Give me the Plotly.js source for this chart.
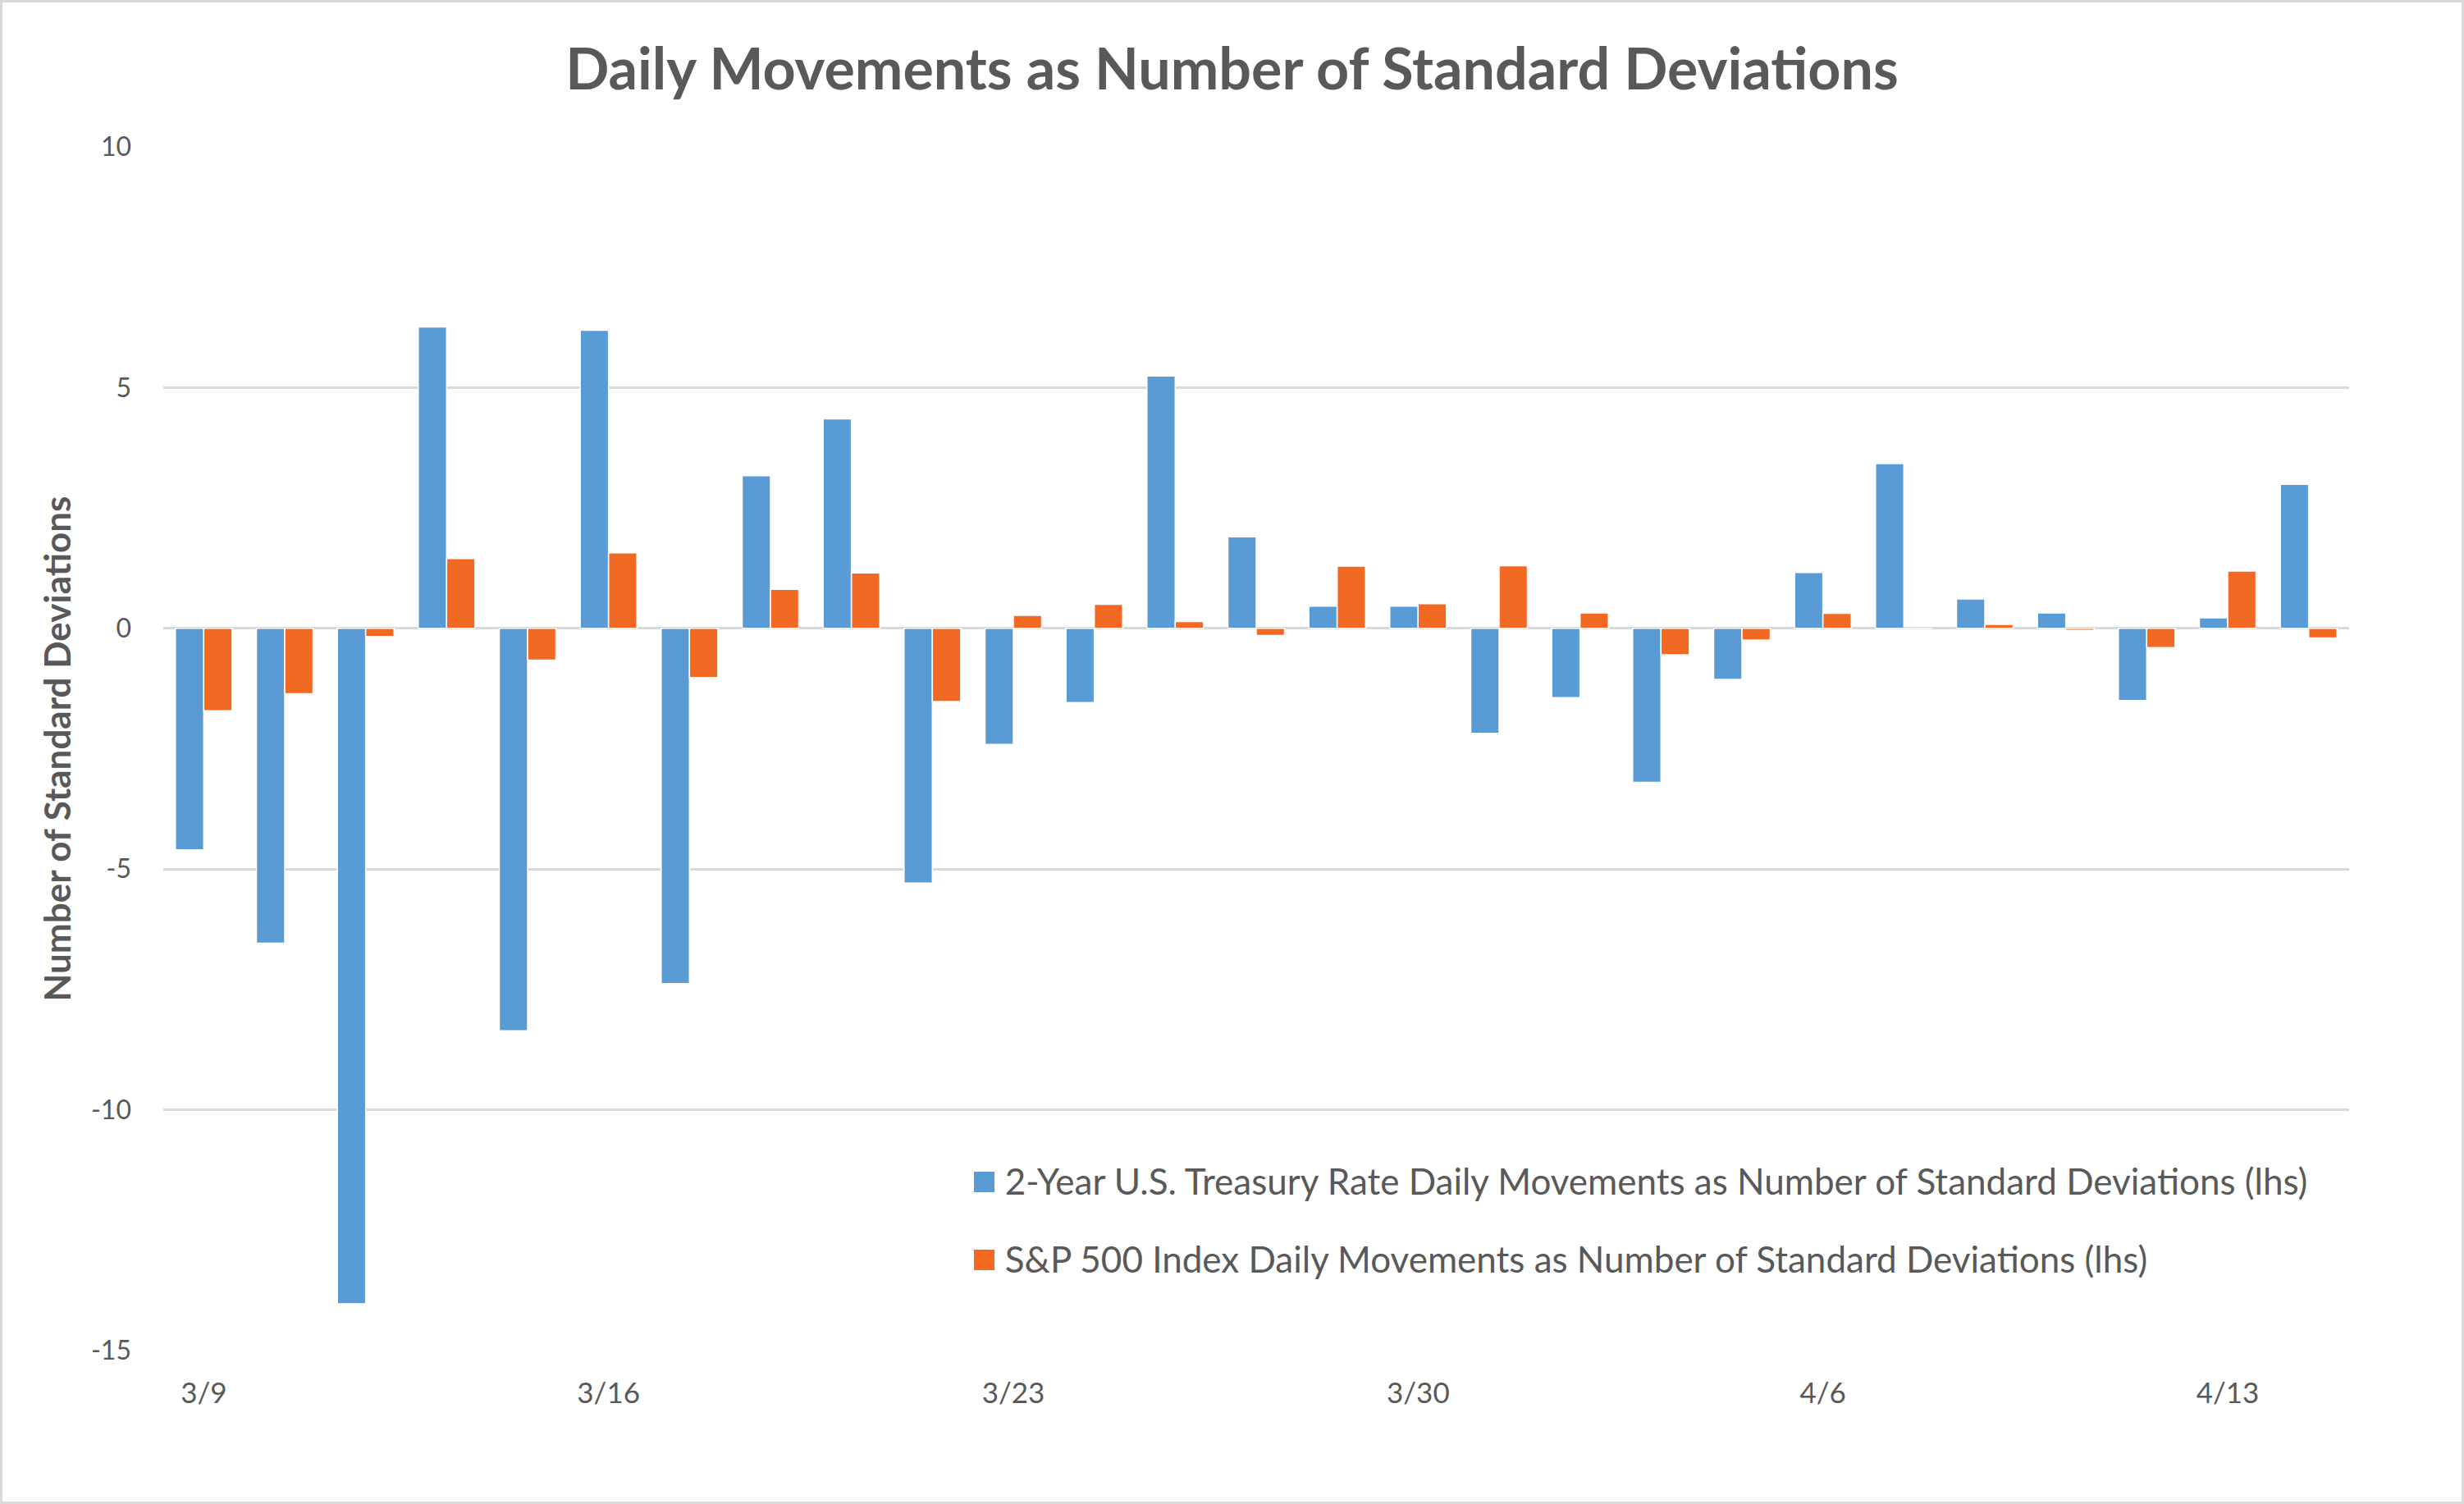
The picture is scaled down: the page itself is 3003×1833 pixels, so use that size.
<!DOCTYPE html>
<html>
<head>
<meta charset="utf-8">
<script src="https://cdn.plot.ly/plotly-3.0.1.min.js"></script>
<style>
  html, body { margin: 0; padding: 0; background: #ffffff; }
  #wrap { position: relative; width: 3003px; height: 1833px; }
  #chart { width: 3003px; height: 1833px; }
  #frame { position: absolute; left: 0; top: 0; width: 3003px; height: 1833px; box-sizing: border-box;
           border: 3px solid #d9d9d9; pointer-events: none; }
  .key { position: absolute; width: 25px; height: 25px; pointer-events: none; }
</style>
</head>
<body>
<div id="wrap">
  <div id="chart"></div>
  <div id="frame"></div>
</div>
<script>
// Trading days (categories)
const dates = ['3/9','3/10','3/11','3/12','3/13',
               '3/16','3/17','3/18','3/19','3/20',
               '3/23','3/24','3/25','3/26','3/27',
               '3/30','3/31','4/1','4/2','4/3',
               '4/6','4/7','4/8','4/9','4/10',
               '4/13','4/14'];

// 2-Year U.S. Treasury rate daily movements (std devs)
const treasury2y = [-4.60, -6.54, -14.03, 6.26, -8.36,
                     6.19, -7.38, 3.17, 4.35, -5.29,
                    -2.41, -1.54, 5.24, 1.90, 0.46,
                     0.46, -2.18, -1.44, -3.20, -1.06,
                     1.16, 3.42, 0.61, 0.32, -1.50,
                     0.22, 2.99];

// S&P 500 index daily movements (std devs)
const sp500 = [-1.71, -1.36, -0.17, 1.45, -0.66,
                1.57, -1.02, 0.81, 1.15, -1.52,
                0.27, 0.50, 0.14, -0.15, 1.29,
                0.51, 1.30, 0.32, -0.55, -0.24,
                0.31, 0.00, 0.08, -0.04, -0.40,
                1.19, -0.20];

const tickLabels = ['3/9','3/16','3/23','3/30','4/6','4/13'];
const yTicks = [10, 5, 0, -5, -10, -15];

const seriesNames = [
  '2-Year U.S. Treasury Rate Daily Movements as Number of Standard Deviations (lhs)',
  'S&P 500 Index Daily Movements as Number of Standard Deviations (lhs)'
];
const seriesColors = ['#5B9BD5', '#F26924'];

const FONT = 'Lato, "Open Sans", sans-serif';
const GREY = '#595959';

const traces = [
  {
    type: 'bar', x: dates, y: treasury2y, name: seriesNames[0],
    legendgroup: 'a',
    marker: { color: seriesColors[0], line: { color: '#ffffff', width: 1.5 } }
  },
  {
    type: 'bar', x: dates, y: sp500, name: seriesNames[1],
    legendgroup: 'b',
    marker: { color: seriesColors[1], line: { color: '#ffffff', width: 1.5 } }
  }
];

const layout = {
  width: 3003, height: 1833,
  paper_bgcolor: '#ffffff', plot_bgcolor: '#ffffff',
  margin: { l: 199, r: 140, t: 179, b: 187 },
  barmode: 'group', bargap: 0.30, bargroupgap: 0,
  font: { family: FONT, color: GREY, size: 35 },
  title: {
    text: '<b>Daily Movements as Number of Standard Deviations</b>',
    font: { family: FONT, size: 70, color: GREY },
    x: 0.5, xanchor: 'center', xref: 'container',
    y: 0.954, yanchor: 'middle', yref: 'container'
  },
  xaxis: {
    type: 'category',
    tickmode: 'array', tickvals: tickLabels, ticktext: tickLabels,
    showgrid: false, zeroline: false, showline: false,
    ticks: '', ticklabelstandoff: 28,
    tickfont: { family: FONT, size: 35, color: GREY }
  },
  yaxis: {
    range: [-15, 10],
    tickmode: 'array', tickvals: yTicks, ticktext: yTicks.map(String),
    showgrid: true, gridcolor: '#D9D9D9', gridwidth: 3,
    zeroline: true, zerolinecolor: '#D9D9D9', zerolinewidth: 3,
    showline: false, ticks: '', ticklabelstandoff: 38,
    tickfont: { family: FONT, size: 32, color: GREY },
    title: {
      text: '<b>Number of Standard Deviations</b>',
      font: { family: FONT, size: 44, color: GREY },
      standoff: 10
    }
  },
  showlegend: true,
  legend: {
    x: 0.370, xanchor: 'left', y: 0.165, yanchor: 'top',
    bgcolor: 'rgba(0,0,0,0)',
    font: { family: FONT, size: 44, color: GREY },
    tracegroupgap: 35,
    traceorder: 'grouped'
  }
};

Plotly.newPlot('chart', traces, layout, { displayModeBar: false, staticPlot: true }).then(function (gd) {
  // Replace Plotly's small legend swatches with square keys sized like the reference.
  const wrap = document.getElementById('wrap');
  const wr = wrap.getBoundingClientRect();
  gd.querySelectorAll('.legend .traces').forEach(function (t, i) {
    const pts = t.querySelector('.legendpoints');
    if (pts) pts.style.opacity = 0;
    const txt = t.querySelector('text.legendtext');
    if (!txt) return;
    const r = txt.getBoundingClientRect();
    const key = document.createElement('div');
    key.className = 'key';
    key.style.background = seriesColors[i];
    key.style.left = (r.left - wr.left - 38) + 'px';
    key.style.top = (r.top - wr.top + r.height * 0.52 - 12.5) + 'px';
    wrap.appendChild(key);
  });
});
</script>
</body>
</html>
